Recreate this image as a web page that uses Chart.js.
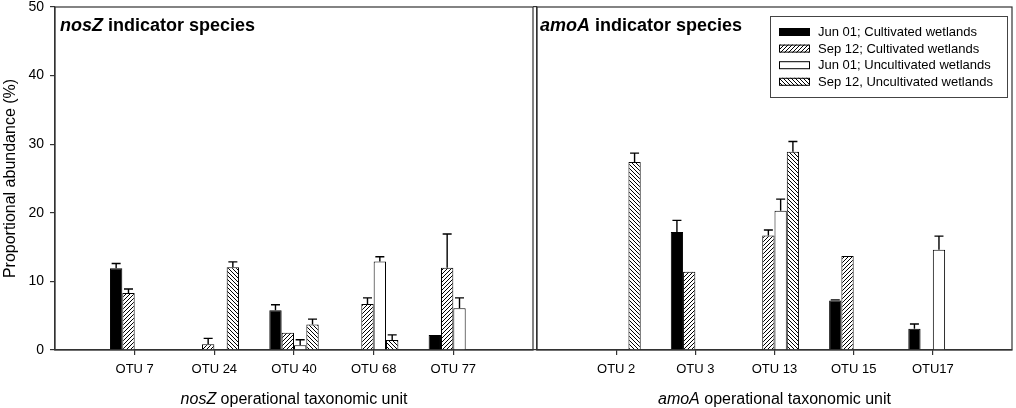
<!DOCTYPE html>
<html>
<head>
<meta charset="utf-8">
<script src="https://cdn.jsdelivr.net/npm/chart.js@4.4.1/dist/chart.umd.min.js"></script>
<style>
    body { margin: 0; background: #fff; }
    #wrap { position: relative; width: 1016px; height: 408px; }
    canvas { position: absolute; top: 0; }
    #nosChart { left: 0; }
    #amoChart { left: 533px; }
</style>
</head>
<body>
<div id="wrap">
    <canvas id="nosChart" width="537" height="408"></canvas>
    <canvas id="amoChart" width="483" height="408"></canvas>
</div>
<script>
var seriesNames = ["Jun 01; Cultivated wetlands", "Sep 12; Cultivated wetlands", "Jun 01; Uncultivated wetlands", "Sep 12, Uncultivated wetlands"];

// nosZ panel
var nosCategories = ["OTU 7", "OTU 24", "OTU 40", "OTU 68", "OTU 77"];
var nosJunCult = [11.9, null, 5.8, null, 2.2];
var nosJunCultErr = [0.7, 0, 0.8, 0, 0];
var nosSepCult = [8.3, 0.85, 2.5, 6.7, 12.0];
var nosSepCultErr = [0.6, 0.85, 0, 0.9, 4.9];
var nosJunUncult = [null, null, 0.7, 12.9, 6.1];
var nosJunUncultErr = [0, 0, 0.8, 0.7, 1.5];
var nosSepUncult = [null, 12.05, 3.7, 1.45, null];
var nosSepUncultErr = [0, 0.8, 0.8, 0.75, 0];

// amoA panel
var amoCategories = ["OTU 2", "OTU 3", "OTU 13", "OTU 15", "OTU17"];
var amoJunCult = [null, 17.2, null, 7.2, 3.1];
var amoJunCultErr = [0, 1.7, 0, 0.1, 0.7];
var amoSepCult = [null, 11.4, 16.7, 13.7, null];
var amoSepCultErr = [0, 0, 0.8, 0, 0];
var amoJunUncult = [null, null, 20.3, null, 14.6];
var amoJunUncultErr = [0, 0, 1.7, 0, 2.0];
var amoSepUncult = [27.4, null, 28.9, null, null];
var amoSepUncultErr = [1.3, 0, 1.5, 0, 0];

var yTicks = [0, 10, 20, 30, 40, 50];
var yTicksRight = [0, 50];

var FONT = "'Liberation Sans', Arial, sans-serif";
var LINE = "#333";

function hatch(dir) {
    var c = document.createElement("canvas");
    c.width = 4; c.height = 4;
    var g = c.getContext("2d");
    g.fillStyle = "#fff";
    g.fillRect(0, 0, 4, 4);
    g.strokeStyle = "#000";
    g.lineWidth = 1;
    g.beginPath();
    if (dir > 0) {
        g.moveTo(0, 4); g.lineTo(4, 0);
        g.moveTo(-1, 1); g.lineTo(1, -1);
        g.moveTo(3, 5); g.lineTo(5, 3);
    } else {
        g.moveTo(0, 0); g.lineTo(4, 4);
        g.moveTo(-1, 3); g.lineTo(1, 5);
        g.moveTo(3, -1); g.lineTo(5, 1);
    }
    g.stroke();
    return g.createPattern(c, "repeat");
}

var fills = ["#000", hatch(1), "#fff", hatch(-1)];

function pad(a) {
    return [null].concat(a, [null]);
}

function makeDatasets(vals, errs) {
    return vals.map(function (v, i) {
        return {
            label: seriesNames[i],
            data: pad(v),
            errors: pad(errs[i]),
            backgroundColor: fills[i],
            borderColor: "#000",
            borderWidth: 1,
            categoryPercentage: 0.62,
            barPercentage: 1
        };
    });
}

function drawParts(ctx, parts, x, y, align) {
    var total = 0;
    parts.forEach(function (p) {
        ctx.font = p.font;
        total += ctx.measureText(p.text).width;
    });
    var cx = align === "center" ? x - total / 2 : x;
    ctx.textAlign = "left";
    ctx.textBaseline = "alphabetic";
    ctx.fillStyle = "#000";
    parts.forEach(function (p) {
        ctx.font = p.font;
        ctx.fillText(p.text, cx, y);
        cx += ctx.measureText(p.text).width;
    });
}

// error bars (upper only) drawn from each bar's value through the y scale
var errorBars = {
    id: "errorBars",
    afterDatasetsDraw: function (chart) {
        var ctx = chart.ctx;
        var y = chart.scales.y;
        ctx.save();
        ctx.strokeStyle = "#000";
        ctx.lineWidth = 1.4;
        chart.data.datasets.forEach(function (ds, di) {
            var meta = chart.getDatasetMeta(di);
            meta.data.forEach(function (bar, i) {
                var v = ds.data[i], e = ds.errors[i];
                if (v == null || !e) return;
                var top = y.getPixelForValue(v + e);
                ctx.beginPath();
                ctx.moveTo(bar.x, bar.y);
                ctx.lineTo(bar.x, top);
                ctx.moveTo(bar.x - 4.5, top);
                ctx.lineTo(bar.x + 4.5, top);
                ctx.stroke();
            });
        });
        ctx.restore();
    }
};

var decor = {
    id: "decor",
    afterDraw: function (chart, args, opts) {
        var ctx = chart.ctx;
        var a = chart.chartArea;
        ctx.save();
        ctx.strokeStyle = LINE;
        ctx.lineWidth = 1.2;
        ctx.strokeRect(a.left, a.top, a.right - a.left, a.bottom - a.top);

        drawParts(ctx, [
            { text: opts.gene, font: "italic bold 18px " + FONT },
            { text: " indicator species", font: "bold 18px " + FONT }
        ], a.left + opts.titleX, 31, "left");

        drawParts(ctx, [
            { text: opts.gene, font: "italic 16px " + FONT },
            { text: " operational taxonomic unit", font: "16px " + FONT }
        ], (a.left + a.right) / 2, 404, "center");

        if (opts.yTitle) {
            ctx.save();
            ctx.translate(15, (a.top + a.bottom) / 2);
            ctx.rotate(-Math.PI / 2);
            ctx.font = "16px " + FONT;
            ctx.fillStyle = "#000";
            ctx.textAlign = "center";
            ctx.textBaseline = "alphabetic";
            ctx.fillText(opts.yTitle, 0, 0);
            ctx.restore();
        }

        if (opts.legend) {
            var bx = 237, by = 16, bw = 237, bh = 81;
            ctx.fillStyle = "#fff";
            ctx.fillRect(bx, by, bw, bh);
            ctx.strokeStyle = "#444";
            ctx.lineWidth = 1;
            ctx.strokeRect(bx + 0.5, by + 0.5, bw, bh);
            chart.data.datasets.forEach(function (ds, i) {
                var ry = 32 + i * 16.6;
                ctx.fillStyle = ds.backgroundColor;
                ctx.fillRect(246, ry - 4, 31, 8);
                ctx.strokeStyle = "#000";
                ctx.strokeRect(246.5, ry - 3.5, 30, 7);
                ctx.fillStyle = "#000";
                ctx.font = "13px " + FONT;
                ctx.textAlign = "left";
                ctx.textBaseline = "middle";
                ctx.fillText(ds.label, 285, ry + 0.5);
            });
        }
        ctx.restore();
    }
};

function makeChart(id, categories, vals, errs, left) {
    var labels = [""].concat(categories, [""]);
    var last = labels.length - 1;
    return new Chart(document.getElementById(id).getContext("2d"), {
        type: "bar",
        data: { labels: labels, datasets: makeDatasets(vals, errs) },
        plugins: [errorBars, decor],
        options: {
            responsive: false,
            animation: false,
            layout: { padding: { top: 7, right: 4, left: 0, bottom: 0 } },
            scales: {
                x: {
                    type: "category",
                    offset: false,
                    grid: {
                        offset: false,
                        drawOnChartArea: false,
                        tickLength: 5,
                        lineWidth: 1.2,
                        color: function (c) {
                            return (c.index === 0 || c.index === last) ? "rgba(0,0,0,0)" : LINE;
                        }
                    },
                    border: { display: true, color: LINE, width: 1.2 },
                    ticks: {
                        color: "#000",
                        font: { family: FONT, size: 13 },
                        padding: 7,
                        autoSkip: false,
                        maxRotation: 0
                    },
                    afterFit: function (s) {
                        s.height = 58;
                        s.paddingLeft = 0;
                        s.paddingRight = 0;
                    }
                },
                y: {
                    min: 0,
                    max: 50,
                    afterBuildTicks: function (s) {
                        s.ticks = (left ? yTicks : yTicksRight).map(function (v) { return { value: v }; });
                    },
                    grid: { drawOnChartArea: false, tickLength: left ? 5 : 4, lineWidth: 1.2, color: LINE },
                    border: { display: true, color: LINE, width: 1.2 },
                    ticks: {
                        display: left,
                        color: "#000",
                        font: { family: FONT, size: 14 },
                        padding: 6
                    },
                    afterFit: function (s) {
                        s.width = left ? 55 : 4;
                        s.paddingTop = 0;
                        s.paddingBottom = 0;
                    }
                }
            },
            plugins: {
                legend: { display: false },
                tooltip: { enabled: false },
                decor: {
                    gene: left ? "nosZ" : "amoA",
                    titleX: left ? 5 : 3,
                    yTitle: left ? "Proportional abundance (%)" : null,
                    legend: !left
                }
            }
        }
    });
}

makeChart("nosChart", nosCategories,
    [nosJunCult, nosSepCult, nosJunUncult, nosSepUncult],
    [nosJunCultErr, nosSepCultErr, nosJunUncultErr, nosSepUncultErr], true);

makeChart("amoChart", amoCategories,
    [amoJunCult, amoSepCult, amoJunUncult, amoSepUncult],
    [amoJunCultErr, amoSepCultErr, amoJunUncultErr, amoSepUncultErr], false);
</script>
</body>
</html>
